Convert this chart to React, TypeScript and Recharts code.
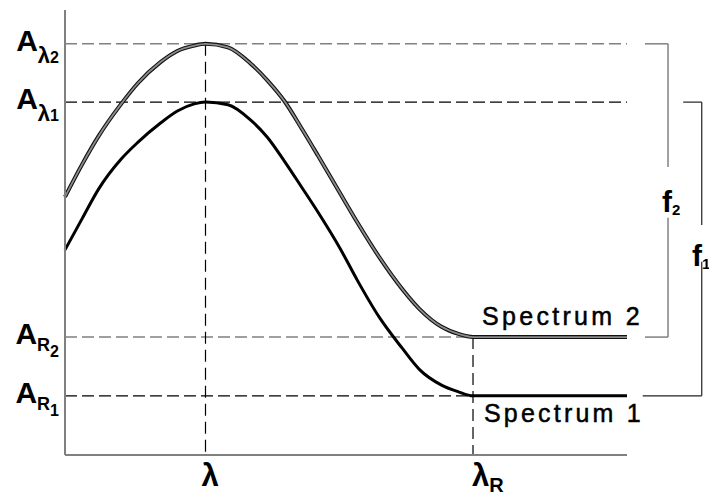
import { LineChart, Line, XAxis, YAxis, ReferenceLine } from 'recharts';

// wavelength positions (arbitrary units, 0..100 across the plot)
const wavelength = [0, 3, 6, 10, 13, 17, 20, 23, 25, 29, 33, 36, 39, 42, 45, 49, 52, 56, 60, 63, 67, 70, 72.6, 100];
// absorbance of the two spectra (arbitrary units, 0..100)
const spectrum2 = [58.0, 65.2, 71.7, 78.9, 83.6, 88.3, 90.8, 92.0, 92.4, 91.6, 88.0, 84.2, 79.6, 73.6, 67.3, 58.7, 52.3, 44.3, 37.3, 32.9, 28.8, 27.2, 26.5, 26.5];
const spectrum1 = [46.1, 53.0, 59.8, 66.5, 70.3, 74.6, 77.3, 78.9, 79.3, 78.7, 75.3, 71.4, 66.1, 60.4, 54.6, 46.3, 39.3, 30.8, 24.0, 19.3, 15.7, 14.2, 13.3, 13.3];

// marked levels
const LAMBDA = 25;
const LAMBDA_R = 72.6;
const A_L2 = 92.4;
const A_L1 = 79.3;
const A_R2 = 26.5;
const A_R1 = 13.3;

const yTicks = [A_R1, A_R2, A_L1, A_L2];
const yTickSub = ['R', 'R', 'λ', 'λ'];
const yTickIdx = ['1', '2', '1', '2'];
const xTicks = [LAMBDA, LAMBDA_R];
const xTickSub = ['', 'R'];

// bracket x positions (beyond the plot, same units)
const B2_L = 103.2;
const B2_X = 107.3;
const B1_TL = 110.0;
const B1_BL = 102.8;
const B1_X = 113.3;

const data = wavelength.map((wl, i) => ({ wl, s2: spectrum2[i], s1: spectrum1[i] }));

const FONT = '"Liberation Sans", Arial, Helvetica, sans-serif';
const GRAY = '#808080';

function YTick(props: any) {
  const { x, y, payload } = props;
  const i = yTicks.indexOf(payload.value);
  const isLambda = yTickSub[i] === 'λ';
  return (
    <text x={x} y={y + 7} textAnchor="end" fontFamily={FONT} fontWeight="bold" fill="#000">
      <tspan fontSize={30}>A</tspan>
      <tspan fontSize={isLambda ? 22 : 18} dy={isLambda ? 12 : 7}>{yTickSub[i]}</tspan>
      <tspan fontSize={16} dy={isLambda ? 0 : 6}>{yTickIdx[i]}</tspan>
    </text>
  );
}

function XTick(props: any) {
  const { x, y, payload } = props;
  const i = xTicks.indexOf(payload.value);
  return (
    <text x={x - (i === 0 ? 4 : 1)} y={y + 31} textAnchor="start" fontFamily={FONT} fontWeight="bold" fill="#000">
      <tspan fontSize={31}>λ</tspan>
      {xTickSub[i] && <tspan fontSize={20} dy={6}>{xTickSub[i]}</tspan>}
    </text>
  );
}

export default function App() {
  return (
    <div style={{ position: 'absolute', left: 0, top: 0, width: 709, height: 492, background: '#fff' }}>
      <LineChart width={709} height={492} data={data} margin={{ top: 10, right: 82, bottom: 0, left: 0 }}>
        <XAxis
          dataKey="wl"
          type="number"
          domain={[0, 100]}
          ticks={xTicks}
          interval={0}
          tick={XTick}
          tickLine={false}
          tickSize={0}
          tickMargin={0}
          height={37}
          axisLine={{ stroke: GRAY, strokeWidth: 2 }}
        />
        <YAxis
          type="number"
          domain={[0, 100]}
          ticks={yTicks}
          interval={0}
          tick={YTick}
          tickLine={false}
          tickSize={0}
          tickMargin={6}
          width={65}
          axisLine={{ stroke: GRAY, strokeWidth: 2 }}
        />

        {/* dashed guide lines */}
        <ReferenceLine y={A_L2} stroke={GRAY} strokeWidth={1.5} strokeDasharray="12 5" />
        <ReferenceLine y={A_L1} stroke="#000" strokeWidth={1.2} strokeDasharray="12 5" />
        <ReferenceLine y={A_R2} stroke={GRAY} strokeWidth={1.5} strokeDasharray="12 5" />
        <ReferenceLine y={A_R1} stroke="#000" strokeWidth={1.2} strokeDasharray="12 5" />
        <ReferenceLine segment={[{ x: LAMBDA, y: A_L2 }, { x: LAMBDA, y: 0 }]} stroke="#000" strokeWidth={1.2} strokeDasharray="12 6" />
        <ReferenceLine segment={[{ x: LAMBDA_R, y: A_R2 }, { x: LAMBDA_R, y: 0 }]} stroke="#000" strokeWidth={1.2} strokeDasharray="12 6" />

        {/* f2 bracket */}
        <ReferenceLine ifOverflow="visible" segment={[{ x: B2_L, y: A_L2 }, { x: B2_X, y: A_L2 }]} stroke={GRAY} strokeWidth={1.5} />
        <ReferenceLine ifOverflow="visible" segment={[{ x: B2_X, y: A_L2 }, { x: B2_X, y: 64.7 }]} stroke={GRAY} strokeWidth={1.5} />
        <ReferenceLine ifOverflow="visible" segment={[{ x: B2_X, y: 53.3 }, { x: B2_X, y: A_R2 }]} stroke={GRAY} strokeWidth={1.5} />
        <ReferenceLine ifOverflow="visible" segment={[{ x: B2_L, y: A_R2 }, { x: B2_X, y: A_R2 }]} stroke={GRAY} strokeWidth={1.5} />

        {/* f1 bracket */}
        <ReferenceLine ifOverflow="visible" segment={[{ x: B1_TL, y: A_L1 }, { x: B1_X, y: A_L1 }]} stroke="#222" strokeWidth={1.2} />
        <ReferenceLine ifOverflow="visible" segment={[{ x: B1_X, y: A_L1 }, { x: B1_X, y: 51.7 }]} stroke="#222" strokeWidth={1.2} />
        <ReferenceLine ifOverflow="visible" segment={[{ x: B1_X, y: 43.4 }, { x: B1_X, y: A_R1 }]} stroke="#222" strokeWidth={1.2} />
        <ReferenceLine ifOverflow="visible" segment={[{ x: B1_BL, y: A_R1 }, { x: B1_X, y: A_R1 }]} stroke="#222" strokeWidth={1.2} />

        <Line type="monotone" dataKey="s2" stroke="#111" strokeWidth={4} dot={false} isAnimationActive={false} />
        <Line type="monotone" dataKey="s2" stroke="#8c8c8c" strokeWidth={1.8} dot={false} isAnimationActive={false} />
        <Line type="monotone" dataKey="s1" stroke="#000" strokeWidth={3} dot={false} isAnimationActive={false} />
      </LineChart>

      <svg width={709} height={492} style={{ position: 'absolute', left: 0, top: 0, pointerEvents: 'none' }}>
        <text x={482} y={325} fontFamily={FONT} fontSize={25} letterSpacing={3.3} fill="#000" stroke="#000" strokeWidth={0.5}>Spectrum 2</text>
        <text x={484} y={422} fontFamily={FONT} fontSize={25} letterSpacing={3.2} fill="#000" stroke="#000" strokeWidth={0.5}>Spectrum 1</text>
        <text x={662} y={212} fontFamily={FONT} fontWeight="bold" fill="#000">
          <tspan fontSize={30}>f</tspan>
          <tspan fontSize={15} dy={3}>2</tspan>
        </text>
        <text x={692} y={266} fontFamily={FONT} fontWeight="bold" fill="#000">
          <tspan fontSize={30}>f</tspan>
          <tspan fontSize={15} dy={3}>1</tspan>
        </text>
      </svg>
    </div>
  );
}
